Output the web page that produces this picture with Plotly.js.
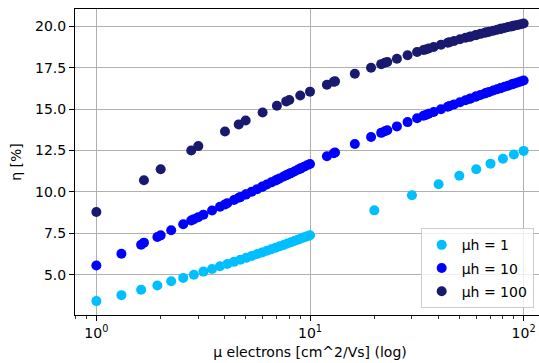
<!DOCTYPE html>
<html>
<head>
<meta charset="utf-8">
<script src="https://cdn.plot.ly/plotly-3.0.1.min.js"></script>
<style>
html,body{margin:0;padding:0;overflow:hidden;background:#fff;}
#chart{width:545px;height:363px;}
</style>
</head>
<body>
<div id="chart"></div>
<script>
// μh = 1
const lbX = [1.00, 1.31, 1.62, 1.93, 2.24, 2.55, 2.86, 3.17, 3.48, 3.79, 4.10, 4.41, 4.72, 5.03, 5.34, 5.66, 5.97, 6.28, 6.59, 6.90, 7.21, 7.52, 7.83, 8.14, 8.45, 8.76, 9.07, 9.38, 9.69, 10.00, 20, 30, 40, 50, 60, 70, 80, 90, 100];
const lbY = [3.40, 3.76, 4.09, 4.34, 4.60, 4.80, 4.99, 5.18, 5.34, 5.50, 5.64, 5.77, 5.90, 6.01, 6.13, 6.24, 6.34, 6.44, 6.53, 6.62, 6.71, 6.79, 6.88, 6.95, 7.03, 7.10, 7.18, 7.25, 7.31, 7.38, 8.88, 9.79, 10.46, 10.97, 11.36, 11.70, 12.00, 12.25, 12.47];

// μh = 10
const bX = [1.00, 1.31, 1.62, 1.67, 1.93, 2.00, 2.24, 2.55, 2.78, 2.86, 3.00, 3.17, 3.48, 3.79, 4.00, 4.10, 4.41, 4.64, 4.72, 5.00, 5.03, 5.34, 5.66, 5.97, 6.00, 6.28, 6.59, 6.90, 7.00, 7.21, 7.52, 7.74, 7.83, 8.00, 8.14, 8.45, 8.76, 9.00, 9.07, 9.38, 9.69, 10.00,
  12.00, 12.92, 13.10, 16.21, 19.31, 21.54, 22.41, 23.00, 25.52, 28.62, 31.72, 34.00, 34.83, 35.94, 37.93, 41.03, 44.14, 45.00, 47.24, 50.34, 53.45, 56.00, 56.55, 59.66, 59.95, 62.76, 65.86, 67.00, 68.97, 72.07, 75.17, 78.00, 78.28, 81.38, 84.48, 87.59, 89.00, 90.69, 93.79, 96.90, 100.00];
const bY = [5.55, 6.26, 6.80, 6.93, 7.27, 7.37, 7.68, 8.04, 8.27, 8.35, 8.47, 8.62, 8.87, 9.10, 9.24, 9.31, 9.50, 9.64, 9.68, 9.83, 9.85, 10.01, 10.16, 10.30, 10.32, 10.44, 10.57, 10.69, 10.73, 10.81, 10.92, 11.00, 11.03, 11.09, 11.13, 11.23, 11.33, 11.40, 11.42, 11.51, 11.60, 11.68,
  12.15, 12.33, 12.37, 12.89, 13.31, 13.56, 13.66, 13.72, 13.95, 14.21, 14.44, 14.59, 14.64, 14.71, 14.82, 14.99, 15.14, 15.18, 15.28, 15.41, 15.53, 15.62, 15.64, 15.75, 15.76, 15.85, 15.94, 15.98, 16.03, 16.12, 16.20, 16.26, 16.27, 16.34, 16.41, 16.48, 16.51, 16.54, 16.60, 16.66, 16.72];

// μh = 100
const nX = [1.00, 1.67, 2.00, 2.78, 3.00, 4.00, 4.64, 5.00, 6.00, 7.00, 7.74, 8.00, 9.00, 10.00,
  12.00, 12.92, 13.10, 16.21, 19.31, 21.54, 22.41, 23.00, 25.52, 28.62, 31.72, 34.00, 34.83, 35.94, 37.93, 41.03, 44.14, 45.00, 47.24, 50.34, 53.45, 56.00, 56.55, 59.66, 59.95, 62.76, 65.86, 67.00, 68.97, 72.07, 75.17, 78.00, 78.28, 81.38, 84.48, 87.59, 89.00, 90.69, 93.79, 96.90, 100.00];
const nY = [8.78, 10.70, 11.36, 12.49, 12.76, 13.64, 14.07, 14.31, 14.79, 15.20, 15.46, 15.54, 15.82, 16.05,
  16.47, 16.64, 16.67, 17.13, 17.49, 17.71, 17.79, 17.84, 18.04, 18.25, 18.44, 18.56, 18.60, 18.65, 18.75, 18.88, 19.00, 19.03, 19.11, 19.21, 19.30, 19.37, 19.38, 19.46, 19.47, 19.54, 19.61, 19.63, 19.67, 19.73, 19.79, 19.84, 19.85, 19.90, 19.95, 19.99, 20.01, 20.04, 20.08, 20.12, 20.16];

const seriesNames = ['μh = 1', 'μh = 10', 'μh = 100'];
const xTickVals = [1, 10, 100];
const xTickText = ['10<sup>0</sup>', '10<sup>1</sup>', '10<sup>2</sup>'];
const xMinorVals = [0.8, 0.9, 2, 3, 4, 5, 6, 7, 8, 9, 20, 30, 40, 50, 60, 70, 80, 90];
const yTickVals = [5, 7.5, 10, 12.5, 15, 17.5, 20];
const yTickText = ['5.0', '7.5', '10.0', '12.5', '15.0', '17.5', '20.0'];

const colors = ['#00bfff', '#0000ff', '#191970'];
const xs = [lbX, bX, nX];
const ys = [lbY, bY, nY];

const traces = xs.map((x, i) => ({
  type: 'scatter', mode: 'markers', x: x, y: ys[i], name: seriesNames[i],
  legendgroup: 'g' + i,
  marker: {color: colors[i], size: 10, line: {width: 0}}
}));

const font = {family: 'DejaVu Sans', size: 14, color: '#000'};
const layout = {
  width: 545, height: 363,
  margin: {l: 75, r: 0, t: 9, b: 48},
  paper_bgcolor: '#fff', plot_bgcolor: '#fff',
  font: font,
  showlegend: true,
  xaxis: {
    type: 'log', range: [-0.1, 2.1],
    tickmode: 'array', tickvals: xTickVals, ticktext: xTickText,
    ticks: 'outside', ticklen: 5, tickwidth: 1, tickcolor: '#000',
    showline: true, linecolor: '#000', linewidth: 1, mirror: true,
    showgrid: true, gridcolor: '#b0b0b0', gridwidth: 1, zeroline: false,
    minor: {tickmode: 'array', tickvals: xMinorVals, ticks: 'outside', ticklen: 3, tickwidth: 0.8, tickcolor: '#000', showgrid: false},
    tickfont: font,
    title: {text: 'μ electrons [cm^2/Vs] (log)', font: font, standoff: 7}
  },
  yaxis: {
    range: [2.56, 21.04],
    tickmode: 'array', tickvals: yTickVals, ticktext: yTickText,
    ticks: 'outside', ticklen: 5, tickwidth: 1, tickcolor: '#000',
    showline: true, linecolor: '#000', linewidth: 1, mirror: true,
    showgrid: true, gridcolor: '#b0b0b0', gridwidth: 1, zeroline: false,
    tickfont: font,
    title: {text: 'η [%]', font: font, standoff: 10}
  },
  legend: {
    x: 0.7355, y: 0.022, xanchor: 'left', yanchor: 'bottom',
    bgcolor: 'rgba(255,255,255,0.8)', bordercolor: '#cccccc', borderwidth: 1,
    tracegroupgap: 2,
    font: font
  }
};

Plotly.newPlot('chart', traces, layout, {displayModeBar: false, staticPlot: true});
</script>
</body>
</html>
